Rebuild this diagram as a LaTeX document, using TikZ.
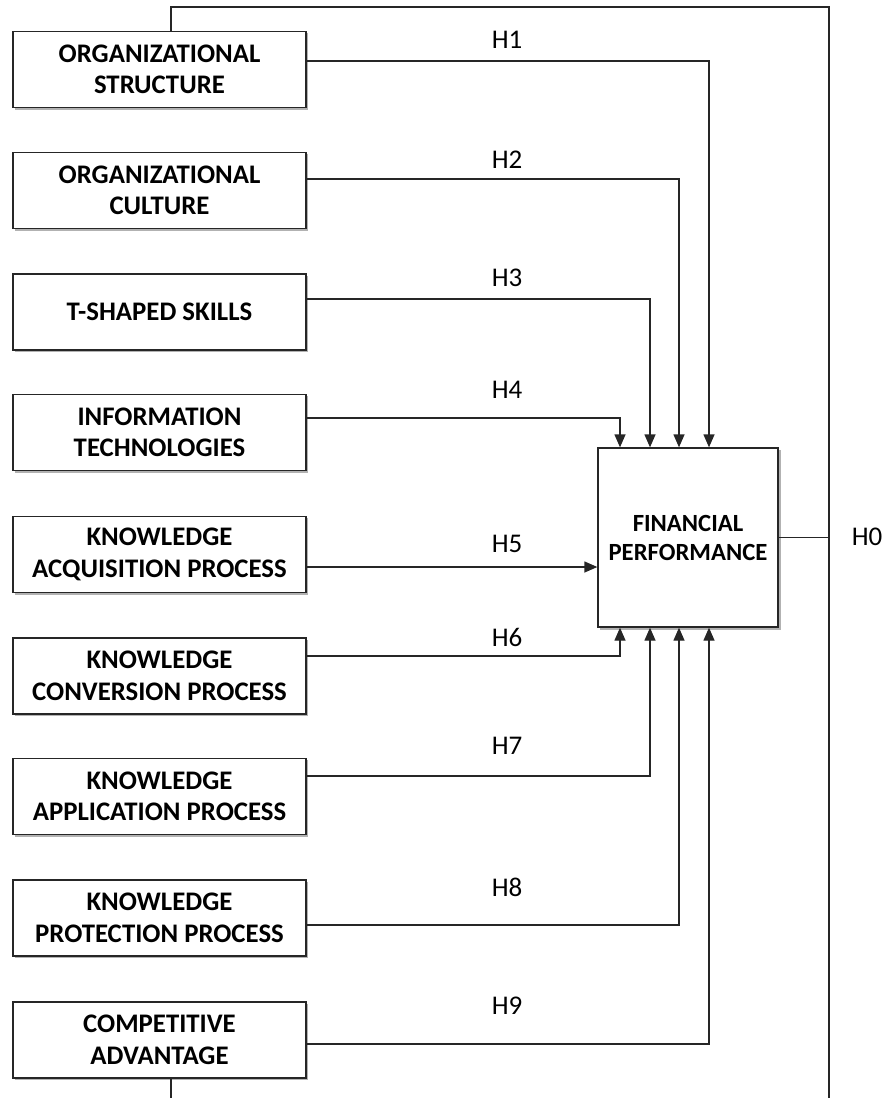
\documentclass[tikz,border=0pt]{standalone}
\usepackage{fontspec}
\setmainfont{Carlito}
\usetikzlibrary{arrows.meta}
\begin{document}
\begin{tikzpicture}[x=1pt,y=-1pt,
  line width=1.3pt, draw=black!85,
  srcbox/.style={draw=black!85, line width=1.3pt, minimum width=293pt, minimum height=76pt,
    inner sep=0pt, align=center, font=\fontsize{26.8}{31.5}\selectfont\bfseries, fill=white},
  fpbox/.style={draw=black!85, line width=1.3pt, minimum width=180pt, minimum height=179pt,
    inner sep=0pt, align=center, font=\fontsize{24.7}{29}\selectfont\bfseries, fill=white},
  hlab/.style={font=\fontsize{27}{31}\selectfont, inner sep=0pt},
  conn/.style={draw=black!85, line width=1.3pt},
  arr/.style={conn, -{Triangle[length=13pt,width=11pt]}},
  shadowc/.style={draw=black!30, line width=1.5pt}
]
\useasboundingbox (0,0) rectangle (887,1098);

\foreach \i/\c in {1/69.5,2/190.5,3/312,4/432.5,5/554.5,6/676,7/796.5,8/918,9/1040}{
  \draw[shadowc] (14.5,\c+39.5) -- (307.5,\c+39.5) -- (307.5,\c-36.5);
}
\draw[shadowc] (600,629) -- (780,629) -- (780,450);

\node[srcbox] (b1) at (159.5,69.5) {ORGANIZATIONAL\\STRUCTURE};
\node[srcbox] (b2) at (159.5,190.5) {ORGANIZATIONAL\\CULTURE};
\node[srcbox] (b3) at (159.5,312) {T-SHAPED SKILLS};
\node[srcbox] (b4) at (159.5,432.5) {INFORMATION\\TECHNOLOGIES};
\node[srcbox] (b5) at (159.5,554.5) {KNOWLEDGE\\ACQUISITION PROCESS};
\node[srcbox] (b6) at (159.5,676) {KNOWLEDGE\\CONVERSION PROCESS};
\node[srcbox] (b7) at (159.5,796.5) {KNOWLEDGE\\APPLICATION PROCESS};
\node[srcbox] (b8) at (159.5,918) {KNOWLEDGE\\PROTECTION PROCESS};
\node[srcbox] (b9) at (159.5,1040) {COMPETITIVE\\ADVANTAGE};

\node[fpbox] (fp) at (688,537.5) {FINANCIAL\\PERFORMANCE};

\draw[arr] (b1.east |- 0,61) -| (fp.north -| 709,0);
\draw[arr] (b2.east |- 0,179) -| (fp.north -| 679,0);
\draw[arr] (b3.east |- 0,299) -| (fp.north -| 650,0);
\draw[arr] (b4.east |- 0,418) -| (fp.north -| 620,0);
\draw[arr] (b5.east |- 0,567) -- (fp.west |- 0,567);
\draw[arr] (b6.east |- 0,656) -| (fp.south -| 620,0);
\draw[arr] (b7.east |- 0,776) -| (fp.south -| 650,0);
\draw[arr] (b8.east |- 0,925) -| (fp.south -| 679,0);
\draw[arr] (b9.east |- 0,1044) -| (fp.south -| 709,0);

\coordinate (tl) at (171,7);
\coordinate (tr) at (829,7);
\coordinate (br) at (829,1098);
\coordinate (bl) at (171,1098);
\draw[conn] (b1.north -| tl) -- (tl) -- (tr) -- (br);
\draw[conn] (b9.south -| bl) -- (bl);
\draw[conn] (fp.east) -- (fp.east -| tr);

\node[hlab] (h1) at (507,40) {H1};
\node[hlab] (h2) at (507,160) {H2};
\node[hlab] (h3) at (507,278) {H3};
\node[hlab] (h4) at (507,390) {H4};
\node[hlab] (h5) at (507,544) {H5};
\node[hlab] (h6) at (507,637) {H6};
\node[hlab] (h7) at (507,746) {H7};
\node[hlab] (h8) at (507,887) {H8};
\node[hlab] (h9) at (507,1006) {H9};
\node[hlab] (h0) at (867,537) {H0};
\end{tikzpicture}
\end{document}
